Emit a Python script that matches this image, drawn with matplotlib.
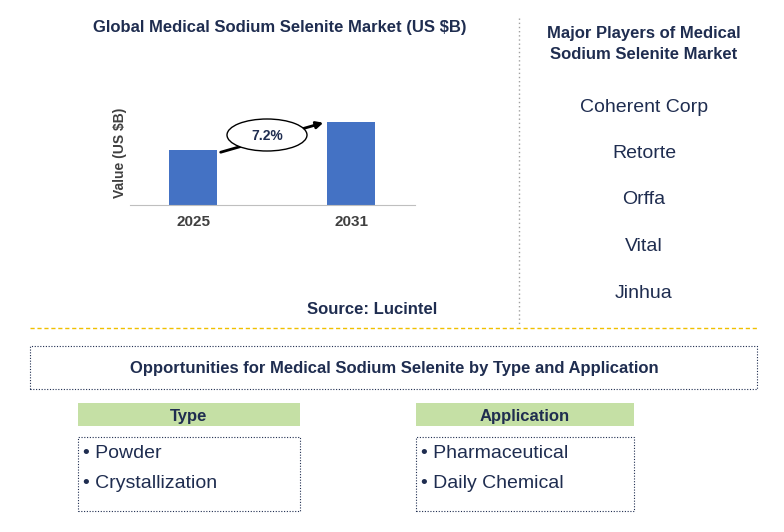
import matplotlib
matplotlib.use('Agg')
import matplotlib.pyplot as plt
import matplotlib.patches as mpatches

plt.rcParams['font.family'] = 'Liberation Sans'

W, H = 784, 532

years = ["2025", "2031"]
values = [1.0, 1.52]
cagr_label = "7.2%"
players = ["Coherent Corp", "Retorte", "Orffa", "Vital", "Jinhua"]
types = ["Powder", "Crystallization"]
applications = ["Pharmaceutical", "Daily Chemical"]

BLUE = "#4472C4"
NAVY = "#1F2D50"
GREEN = "#C5E0A5"


def fx(x):
    return x / W


def fy(y):
    return 1 - y / H


def box(ax, x0, y0, x1, y1, **kw):
    ax.add_patch(mpatches.Rectangle((fx(x0), fy(y1)), fx(x1) - fx(x0), fy(y0) - fy(y1),
                                    transform=ax.transAxes, **kw))


fig = plt.figure(figsize=(W / 100, H / 100), dpi=100)

# bar chart
ax = fig.add_axes([fx(130), fy(205), fx(415) - fx(130), fy(100) - fy(205)])
ax.bar([0, 1], values, width=0.3, color=BLUE)
ax.set_xlim(-0.4, 1.405)
ax.set_ylim(0, 1.92)
ax.set_xticks([0, 1])
ax.set_xticklabels(years, fontsize=11, fontweight='bold', color='#404040')
ax.set_yticks([])
for s in ['top', 'right', 'left']:
    ax.spines[s].set_visible(False)
ax.spines['bottom'].set_color('#BFBFBF')
ax.tick_params(axis='x', length=0, pad=7)
ax.set_ylabel("Value (US $B)", fontsize=10, fontweight='bold', color='#404040', labelpad=2)

# overlay for everything else
bg = fig.add_axes([0, 0, 1, 1], zorder=5)
bg.set_axis_off()
bg.patch.set_alpha(0)
bg.set_xlim(0, 1)
bg.set_ylim(0, 1)

bg.text(fx(280), fy(28), "Global Medical Sodium Selenite Market (US $B)", ha='center', va='center',
        fontsize=12, fontweight='bold', color=NAVY)
bg.annotate("", xy=(fx(326), fy(122)), xytext=(fx(218), fy(153)), xycoords='axes fraction',
            arrowprops=dict(arrowstyle='-|>', color='black', lw=2))
bg.add_patch(mpatches.Ellipse((fx(267), fy(135)), fx(80), 32 / H, transform=bg.transAxes,
                              facecolor='white', edgecolor='black', lw=1, zorder=3))
bg.text(fx(267), fy(136), cagr_label, ha='center', va='center', fontsize=10, fontweight='bold',
        color=NAVY, zorder=4)
bg.text(fx(372), fy(310), "Source: Lucintel", ha='center', va='center', fontsize=12,
        fontweight='bold', color=NAVY)

# separators
bg.plot([fx(519), fx(519)], [fy(18), fy(325)], color='#A0A0A0', lw=1, ls=(0, (1, 2)))
bg.plot([fx(30), fx(757)], [fy(328), fy(328)], color='#F0C000', lw=1, ls=(0, (3, 2)))

# players
bg.text(fx(644), fy(44), "Major Players of Medical\nSodium Selenite Market", ha='center', va='center',
        fontsize=12, fontweight='bold', color=NAVY, linespacing=1.45)
for i, p in enumerate(players):
    bg.text(fx(644), fy(107 + i * 46.5), p, ha='center', va='center', fontsize=14, color=NAVY)

# opportunities
box(bg, 30, 346, 757, 389, facecolor='none', edgecolor=NAVY, lw=0.8, ls=(0, (1, 1.5)))
bg.text(fx(394), fy(369), "Opportunities for Medical Sodium Selenite by Type and Application",
        ha='center', va='center', fontsize=12, fontweight='bold', color=NAVY)

for (x0, x1), title, items in [((78, 300), "Type", types), ((416, 634), "Application", applications)]:
    box(bg, x0, 403, x1, 426, facecolor=GREEN, edgecolor='none')
    bg.text(fx((x0 + x1) / 2), fy(416), title, ha='center', va='center', fontsize=12,
            fontweight='bold', color=NAVY)
    box(bg, x0, 437, x1, 511, facecolor='none', edgecolor=NAVY, lw=0.8, ls=(0, (1, 1.5)))
    for j, it in enumerate(items):
        bg.text(fx(x0 + 5), fy(454 + j * 30), "\u2022 " + it, ha='left', va='center',
                fontsize=14, color=NAVY)

fig.savefig("out.png", dpi=100)
